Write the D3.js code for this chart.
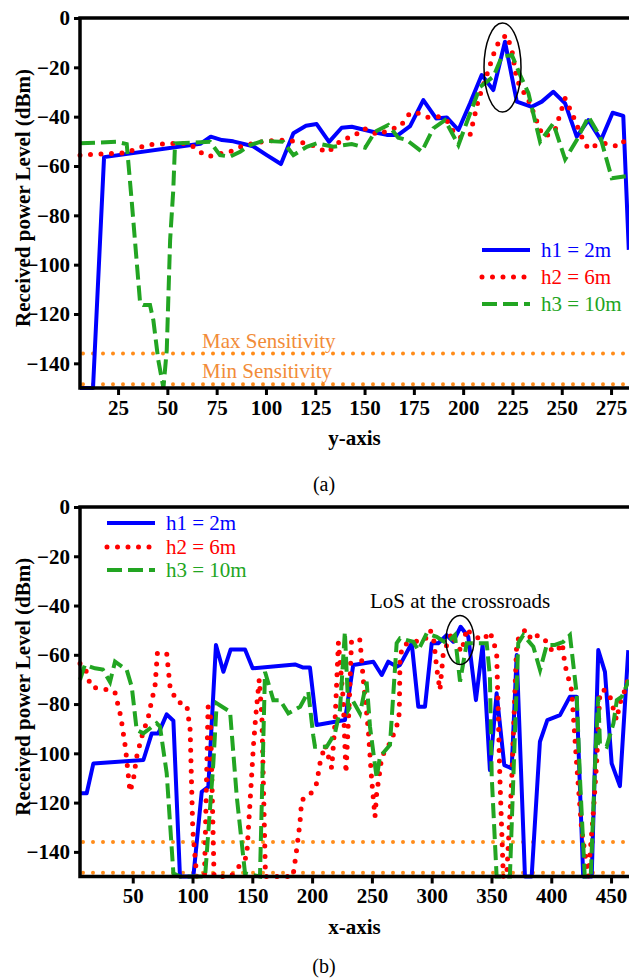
<!DOCTYPE html>
<html>
<head>
<meta charset="utf-8">
<script src="https://cdnjs.cloudflare.com/ajax/libs/d3/7.8.5/d3.min.js"></script>
<style>
  body { margin: 0; background: #fff; }
</style>
</head>
<body>
<svg id="chart" width="629" height="978" font-family="'Liberation Serif', 'DejaVu Serif', serif"></svg>
<script>
// ---- chart (a): received power along the y-axis ----
var aH1x = [5.7, 12.3, 17.9, 66.7, 72, 77.7, 83.4, 93.5, 100.4, 107.6, 113.9, 120.3, 125.7, 132, 138.4, 143.5, 150.3, 156.2, 161.3, 167.1, 173.1, 179.8, 186.3, 191.7, 197.6, 203.5, 209.4, 215.3, 221.2, 227.2, 234.8, 239.9, 245.7, 251.7, 257.6, 263.5, 269.9, 275.8, 281.2, 284];
var aH1y = [-150, -150, -56.4, -51, -48.1, -49.5, -50, -52, -55.6, -59.2, -46.7, -43.7, -43, -50.2, -44.5, -44.1, -45.4, -46.5, -47.4, -47.4, -43.8, -33.3, -40.7, -40.3, -45.4, -34.6, -23.1, -29.2, -9.6, -33.9, -36, -33.9, -29.9, -34.6, -48.1, -41.4, -49.5, -38.4, -39.7, -94];

var aH2x = [5.7, 29.4, 39.5, 56.4, 61.5, 66.2, 70.8, 75.9, 81.8, 86.9, 93.6, 100.4, 110.5, 120.7, 125.8, 130.8, 135, 138.4, 144.3, 149.4, 157, 162, 168, 173.1, 178.1, 182.4, 187.4, 191.7, 195.1, 198.4, 203.5, 207.7, 212.8, 216.7, 219.6, 222.1, 224.7, 227.2, 233.9, 239, 241.5, 246.6, 251.7, 255.9, 260.1, 263.5, 267.7, 272.8, 278.7, 284];
var aH2y = [-55.6, -54.6, -51.4, -50.8, -51.1, -54.2, -56.2, -55.1, -54.2, -52.2, -50.8, -49.8, -49.5, -50.8, -52.2, -54.6, -52.2, -49.2, -48.1, -44.7, -47.4, -45.4, -44.1, -38.4, -38.7, -40.3, -40, -41.6, -46.1, -48.4, -47.4, -33.3, -21.1, -11.6, -8.2, -6.9, -13, -25.1, -34.6, -45.4, -48.1, -45.4, -32.6, -40, -48.1, -53.1, -51.5, -50.8, -52.2, -48.1];

var aH3x = [5.7, 24.3, 29.4, 32, 36.2, 37.8, 41.2, 42.9, 45.4, 48, 49.7, 51.4, 53, 53.9, 71.7, 76.7, 81.8, 86.9, 92, 98.7, 108.8, 113.9, 120.7, 125.8, 134.2, 143.5, 150.3, 155.3, 162, 167.1, 171.4, 179, 184.9, 190.8, 197.6, 203.5, 208.6, 215.3, 219.6, 224.7, 228.9, 233.1, 239, 245.7, 251.7, 257.6, 263.5, 269.5, 275.4, 283];
var aH3y = [-50.8, -50.2, -51.1, -75, -115.7, -116.4, -116.4, -122.5, -138.7, -150, -134.6, -90, -69.7, -50.8, -50.2, -55.6, -56.2, -54.2, -51.5, -49.8, -50.2, -55.6, -52.2, -50.8, -52.2, -51.1, -52.6, -46.1, -43.4, -48.5, -49.5, -54.2, -44.7, -41.4, -51.5, -38.7, -27.9, -23.8, -15.7, -15, -23.1, -30.5, -50.2, -42.7, -57.3, -49.5, -40, -48.1, -65, -64.1];

var aTicksX = [25, 50, 75, 100, 125, 150, 175, 200, 225, 250, 275];

// ---- chart (b): received power along the x-axis ----
var bH1x = [5.9, 11.5, 17.1, 58.9, 65.9, 71.4, 78.4, 84, 89.5, 100.7, 107.7, 113.2, 119.6, 125.8, 131.9, 143.9, 150.3, 185.7, 192.6, 198.2, 203.8, 227.5, 234.4, 251.2, 258.2, 263.7, 270.7, 273.5, 283.3, 288.8, 294.4, 300, 305.5, 312.5, 318.1, 324.2, 330.6, 337, 342.6, 348.7, 354.3, 360.7, 366.9, 371.1, 378, 383.6, 390.5, 396.7, 407.3, 415.6, 421.2, 426.7, 433.8, 439.3, 444.9, 450.5, 457.4, 464.4];
var bH1y = [-116.2, -116.2, -104.1, -102.7, -91.9, -91.9, -84.2, -86.8, -150, -150, -115.6, -113.6, -56, -66.9, -57.8, -57.8, -65.5, -63.9, -65.2, -65.2, -88.5, -86.5, -64.1, -62.8, -68.2, -62.8, -64.8, -64.1, -55.3, -81.1, -81.1, -55.3, -55.3, -52, -54.7, -48.6, -52.7, -78.4, -56, -106.8, -75.6, -104.8, -106.1, -60.1, -150, -150, -95.3, -86.5, -84.5, -77, -77, -150, -150, -58.1, -66.9, -104.1, -113.3, -58.1];

var bH2x = [5.9, 10, 15, 27, 35, 40, 44, 47.7, 50.5, 53.3, 57.5, 63.1, 65.9, 68.6, 70.6, 78.4, 81.2, 86.8, 95.2, 98, 100.2, 103.5, 110, 113, 115, 118, 132, 145.3, 150.9, 153, 155.8, 158, 161, 184, 187.1, 189.8, 191.3, 198.2, 203.8, 206.6, 210.8, 216.4, 219.1, 222, 226, 228.3, 231, 233, 240, 242.8, 247, 249.8, 252.6, 254, 256.8, 258.2, 264.9, 270.7, 272.9, 273.5, 276.3, 284.6, 294.4, 298.5, 301.3, 304.2, 306.9, 309.7, 316.7, 320.9, 325.1, 329.3, 333.4, 343.1, 348.7, 354.3, 357, 359.9, 362.7, 366.9, 371.1, 373.8, 378.8, 383.6, 389.1, 396.2, 400.3, 404.5, 409.2, 411.4, 417, 421.2, 425.4, 430.9, 435.1, 437.9, 440.7, 444.9, 449.1, 454.6, 457.4, 461.6, 465];
var bH2y = [-63.5, -65, -73, -74, -75, -85, -98, -115.6, -110.8, -101.4, -93.3, -85.1, -78.4, -73, -59.4, -59.4, -73, -79, -80.4, -90.5, -131, -150, -150, -81, -85, -150, -150, -142, -97.3, -84, -70, -85, -150, -150, -139, -128.4, -119, -116.9, -112.2, -104, -96.6, -106, -87.8, -55, -78, -108, -80, -54, -54, -70, -90.5, -110.8, -125.7, -116.2, -106.8, -101.4, -96, -89.2, -83.8, -60.8, -56, -54.7, -54, -50, -52, -65.5, -74.3, -59.4, -51.3, -56, -58.8, -49.3, -52, -54, -50.6, -58.8, -109.5, -150, -150, -110.8, -55.3, -52, -49.7, -54, -52, -54.7, -58.1, -58.8, -55.3, -64.1, -74.3, -104, -131, -150, -124.4, -104, -75, -74.3, -77, -86.5, -79.7, -74.3, -68.9];

var bH3x = [5.9, 10, 18.5, 25, 31, 35.2, 45, 49.2, 53.3, 58.9, 70, 72.8, 78.4, 84, 89.5, 110.5, 117.4, 120.2, 131.4, 137, 143.9, 156.4, 160.6, 167.6, 173.2, 180.1, 190, 196.8, 201, 202.4, 212.2, 219.1, 223.3, 227.4, 230.3, 234.4, 240, 245.6, 248.4, 254, 256.7, 265.1, 270.7, 273.5, 284.6, 288.8, 295.8, 304.2, 312.5, 319.4, 323.7, 329.3, 337.6, 346, 348.7, 350.2, 354.3, 365.4, 369, 372.4, 376.6, 385, 390.6, 396.2, 403.1, 410.1, 415.6, 421.2, 424, 428, 433, 437, 439.3, 440.7, 446.3, 452, 454.8, 459, 465];
var bH3y = [-70.2, -64.1, -65.5, -66, -71, -62.8, -66.2, -73, -90.5, -91.9, -87.8, -89.2, -108.1, -148.7, -150, -150, -104, -79.7, -83.1, -117.6, -148.7, -150, -66.9, -78.4, -78.4, -83.8, -81.1, -75, -93, -97.3, -97.3, -91.9, -82.4, -50.6, -82.4, -79, -83.8, -70.9, -89.2, -110, -101.4, -96.6, -55.3, -53.3, -54.7, -58.1, -51.3, -52.7, -55.3, -52, -70.9, -55.3, -55.3, -55.3, -68.9, -109.5, -150, -150, -100, -55.3, -52, -56.7, -66.2, -56, -56, -54.7, -52, -75.6, -110, -150, -150, -100, -77, -96, -97.3, -87.8, -78.4, -77, -70.2];

var bTicksX = [50, 100, 150, 200, 250, 300, 350, 400, 450];

var ticksY = [0, -20, -40, -60, -80, -100, -120, -140];
var maxSens = -136;
var minSens = -148.5;
var legendNames = ['h1 = 2m', 'h2 = 6m', 'h3 = 10m'];

var colors = ['#0000ff', '#ff0000', '#22a522'];
var orange = '#ff8c1a';
var serif = "'Liberation Serif', 'DejaVu Serif', serif";

var svg = d3.select('#chart');

function zip(xs, ys) {
  return xs.map(function (x, i) { return [x, ys[i]]; });
}

function label(sel, size, bold) {
  return sel.attr('font-family', serif)
    .style('font-family', serif)
    .style('font-size', size + 'px')
    .style('font-weight', bold ? 'bold' : 'normal');
}

function styleSeries(sel, k) {
  sel.attr('fill', 'none').attr('stroke', colors[k]);
  if (k === 0) {
    sel.attr('stroke-width', 4).attr('stroke-linejoin', 'round');
  } else if (k === 1) {
    sel.attr('stroke-width', 5).attr('stroke-linecap', 'round').attr('stroke-dasharray', '0,10.5');
  } else {
    sel.attr('stroke-width', 4).attr('stroke-dasharray', '15,6');
  }
  return sel;
}

function drawChart(cfg) {
  var left = 80, right = 629;
  var x = d3.scaleLinear().domain(cfg.xDom).range([left, right]);
  var y = d3.scaleLinear().domain([-150, 0]).range([cfg.bottom, cfg.top]);
  var g = svg.append('g');

  // sensitivity lines
  [maxSens, minSens].forEach(function (v) {
    g.append('line')
      .attr('x1', left + 3).attr('x2', right)
      .attr('y1', y(v)).attr('y2', y(v))
      .attr('stroke', orange)
      .attr('stroke-width', 4)
      .attr('stroke-linecap', 'round')
      .attr('stroke-dasharray', '0,10');
  });

  var line = d3.line()
    .x(function (d) { return x(d[0]); })
    .y(function (d) { return y(d[1]); });

  cfg.series.forEach(function (s, k) {
    styleSeries(g.append('path').datum(s).attr('d', line), k);
  });

  // axes
  var yAxis = d3.axisLeft(y).tickValues(ticksY).tickSize(6).tickPadding(4);
  var xAxis = d3.axisBottom(x).tickValues(cfg.ticksX).tickSize(7).tickPadding(5);

  var ga = g.append('g').attr('transform', 'translate(' + left + ',0)').call(yAxis);
  var gb = g.append('g').attr('transform', 'translate(0,' + cfg.bottom + ')').call(xAxis);
  [ga, gb].forEach(function (a) {
    a.attr('font-family', serif);
    a.select('.domain').remove();
    a.selectAll('line').attr('stroke', '#000').attr('stroke-width', 3);
    label(a.selectAll('text').attr('fill', '#000'), 21, true);
  });

  // frame: left, bottom, top
  g.append('path')
    .attr('d', 'M' + right + ',' + cfg.top + 'H' + left + 'V' + cfg.bottom + 'H' + right)
    .attr('fill', 'none')
    .attr('stroke', '#000')
    .attr('stroke-width', 3.5);

  // axis titles
  label(g.append('text'), 21, true)
    .attr('transform', 'translate(30,' + ((cfg.top + cfg.bottom) / 2 - 5) + ') rotate(-90)')
    .attr('text-anchor', 'middle')
    .text('Received power Level (dBm)');

  label(g.append('text'), 21, true)
    .attr('x', (left + right) / 2)
    .attr('y', cfg.bottom + 57)
    .attr('text-anchor', 'middle')
    .text(cfg.xTitle);

  label(g.append('text'), 20, false)
    .attr('x', 324)
    .attr('y', cfg.caption)
    .attr('text-anchor', 'middle')
    .text(cfg.label);

  // legend
  cfg.legendY.forEach(function (ly, k) {
    styleSeries(g.append('line')
      .attr('x1', cfg.legendX).attr('x2', cfg.legendX + 48)
      .attr('y1', ly).attr('y2', ly), k);
    label(g.append('text'), 21, false)
      .attr('x', cfg.legendX + 59)
      .attr('y', ly + 7)
      .attr('fill', colors[k])
      .text(legendNames[k]);
  });

  return { g: g, x: x, y: y };
}

var a = drawChart({
  xDom: [5.7, 284.1],
  top: 18,
  bottom: 388,
  ticksX: aTicksX,
  series: [zip(aH1x, aH1y), zip(aH2x, aH2y), zip(aH3x, aH3y)],
  xTitle: 'y-axis',
  label: '(a)',
  caption: 491,
  legendX: 482,
  legendY: [250, 277, 304]
});

label(a.g.append('text'), 21, false)
  .attr('x', 202).attr('y', 348)
  .attr('fill', '#f28c38')
  .text('Max Sensitivity');

label(a.g.append('text'), 21, false)
  .attr('x', 202).attr('y', 378)
  .attr('fill', '#f28c38')
  .text('Min Sensitivity');

a.g.append('ellipse')
  .attr('cx', 502.5).attr('cy', 67.5)
  .attr('rx', 18.5).attr('ry', 44.5)
  .attr('fill', 'none')
  .attr('stroke', '#000')
  .attr('stroke-width', 1.5);

var b = drawChart({
  xDom: [5.9, 465],
  top: 507,
  bottom: 876.5,
  ticksX: bTicksX,
  series: [zip(bH1x, bH1y), zip(bH2x, bH2y), zip(bH3x, bH3y)],
  xTitle: 'x-axis',
  label: '(b)',
  caption: 973,
  legendX: 107,
  legendY: [523, 547, 570]
});

label(b.g.append('text'), 21, false)
  .attr('x', 370).attr('y', 608)
  .attr('fill', '#000')
  .text('LoS at the crossroads');

b.g.append('ellipse')
  .attr('cx', 460).attr('cy', 640)
  .attr('rx', 14).attr('ry', 24.5)
  .attr('fill', 'none')
  .attr('stroke', '#000')
  .attr('stroke-width', 1.5);
</script>
</body>
</html>
